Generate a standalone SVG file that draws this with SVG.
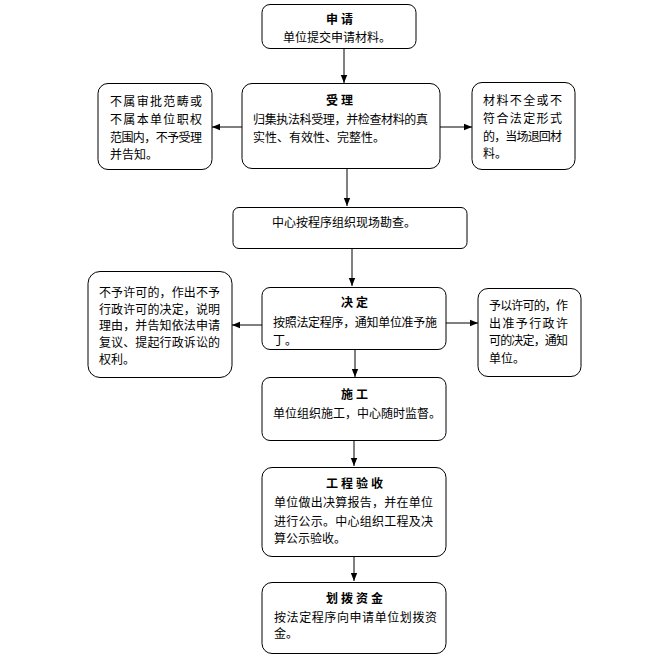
<svg xmlns="http://www.w3.org/2000/svg" width="672" height="657" viewBox="0 0 672 657">
<style>
.box{fill:#fff;stroke:#000;stroke-width:1}
.t{font-family:"Liberation Sans","Noto Sans CJK SC",sans-serif;font-size:12px;fill:#000}
.h{font-family:"Liberation Sans","Noto Sans CJK SC",sans-serif;font-size:12px;font-weight:bold;fill:#000;text-anchor:middle;letter-spacing:3px}
.c{stroke:#000;stroke-width:1;fill:none;marker-end:url(#ah)}
</style>
<defs>
<marker id="ah" viewBox="0 0 10 10" refX="10" refY="5" markerWidth="8" markerHeight="8" markerUnits="userSpaceOnUse" orient="auto">
<path d="M0,1 L10,5 L0,9 z" fill="#000"/>
</marker>
</defs>
<rect width="672" height="657" fill="#fff"/>
<g id="connectors">
<line class="c" x1="344" y1="48" x2="344" y2="83"/>
<line class="c" x1="242" y1="127" x2="212" y2="127"/>
<line class="c" x1="440" y1="127" x2="472" y2="127"/>
<line class="c" x1="347" y1="168" x2="347" y2="206"/>
<line class="c" x1="352" y1="248" x2="352" y2="286"/>
<line class="c" x1="262" y1="325" x2="232" y2="325"/>
<line class="c" x1="446" y1="323" x2="478" y2="323"/>
<line class="c" x1="355" y1="349" x2="355" y2="377"/>
<line class="c" x1="354" y1="440" x2="354" y2="466"/>
<line class="c" x1="354" y1="556" x2="354" y2="581"/>
</g>
<g id="apply">
<rect class="box" x="262" y="4.5" width="154" height="44" rx="8"/>
<text class="h" x="341" y="24">申请</text>
<text class="t" x="283" y="42">单位提交申请材料。</text>
</g>
<g id="accept">
<rect class="box" x="242" y="83.5" width="198" height="85" rx="10"/>
<text class="h" x="341" y="105">受理</text>
<text class="t" x="253" y="124" textLength="175" lengthAdjust="spacing">归集执法科受理，并检查材料的真</text>
<text class="t" x="253" y="142">实性、有效性、完整性。</text>
</g>
<g id="reject-scope">
<rect class="box" x="98" y="83.5" width="114" height="86" rx="10"/>
<text class="t" x="110" y="106" textLength="92" lengthAdjust="spacing">不属审批范畴或</text>
<text class="t" x="110" y="124" textLength="92" lengthAdjust="spacing">不属本单位职权</text>
<text class="t" x="110" y="142" textLength="92" lengthAdjust="spacing">范围内，不予受理</text>
<text class="t" x="110" y="159">并告知。</text>
</g>
<g id="return-materials">
<rect class="box" x="472" y="82.5" width="103" height="87" rx="10"/>
<text class="t" x="483" y="105" textLength="79" lengthAdjust="spacing">材料不全或不</text>
<text class="t" x="483" y="123" textLength="79" lengthAdjust="spacing">符合法定形式</text>
<text class="t" x="483" y="141" textLength="79" lengthAdjust="spacing">的，当场退回材</text>
<text class="t" x="483" y="158">料。</text>
</g>
<g id="survey">
<rect class="box" x="233" y="207.5" width="234" height="41" rx="6"/>
<text class="t" x="272" y="227">中心按程序组织现场勘查。</text>
</g>
<g id="decide">
<rect class="box" x="262" y="287.5" width="184" height="62" rx="8"/>
<text class="h" x="356" y="307">决定</text>
<text class="t" x="273" y="327" textLength="164" lengthAdjust="spacing">按照法定程序，通知单位准予施</text>
<text class="t" x="273" y="345">丁。</text>
</g>
<g id="deny">
<rect class="box" x="88" y="271.5" width="144" height="106" rx="12"/>
<text class="t" x="99" y="297" textLength="121" lengthAdjust="spacing">不予许可的，作出不予</text>
<text class="t" x="99" y="314" textLength="121" lengthAdjust="spacing">行政许可的决定，说明</text>
<text class="t" x="99" y="330" textLength="121" lengthAdjust="spacing">理由，并告知依法申请</text>
<text class="t" x="99" y="347" textLength="121" lengthAdjust="spacing">复议、提起行政诉讼的</text>
<text class="t" x="99" y="364">权利。</text>
</g>
<g id="permit">
<rect class="box" x="478" y="288.5" width="103" height="88" rx="10"/>
<text class="t" x="489" y="310" textLength="79" lengthAdjust="spacing">予以许可的，作</text>
<text class="t" x="489" y="328" textLength="79" lengthAdjust="spacing">出准予行政许</text>
<text class="t" x="489" y="345" textLength="79" lengthAdjust="spacing">可的决定，通知</text>
<text class="t" x="489" y="363">单位。</text>
</g>
<g id="construct">
<rect class="box" x="262" y="377.5" width="184" height="63" rx="8"/>
<text class="h" x="356" y="399">施工</text>
<text class="t" x="273" y="418">单位组织施工，中心随时监督。</text>
</g>
<g id="inspect">
<rect class="box" x="262" y="467.5" width="184" height="89" rx="10"/>
<text class="h" x="356" y="488">工程验收</text>
<text class="t" x="274" y="507" textLength="159" lengthAdjust="spacing">单位做出决算报告，并在单位</text>
<text class="t" x="274" y="526" textLength="159" lengthAdjust="spacing">进行公示。中心组织工程及决</text>
<text class="t" x="274" y="543">算公示验收。</text>
</g>
<g id="funds">
<rect class="box" x="262" y="582.5" width="184" height="71" rx="10"/>
<text class="h" x="356" y="603">划拨资金</text>
<text class="t" x="274" y="622" textLength="163" lengthAdjust="spacing">按法定程序向申请单位划拨资</text>
<text class="t" x="274" y="638">金。</text>
</g>
</svg>
